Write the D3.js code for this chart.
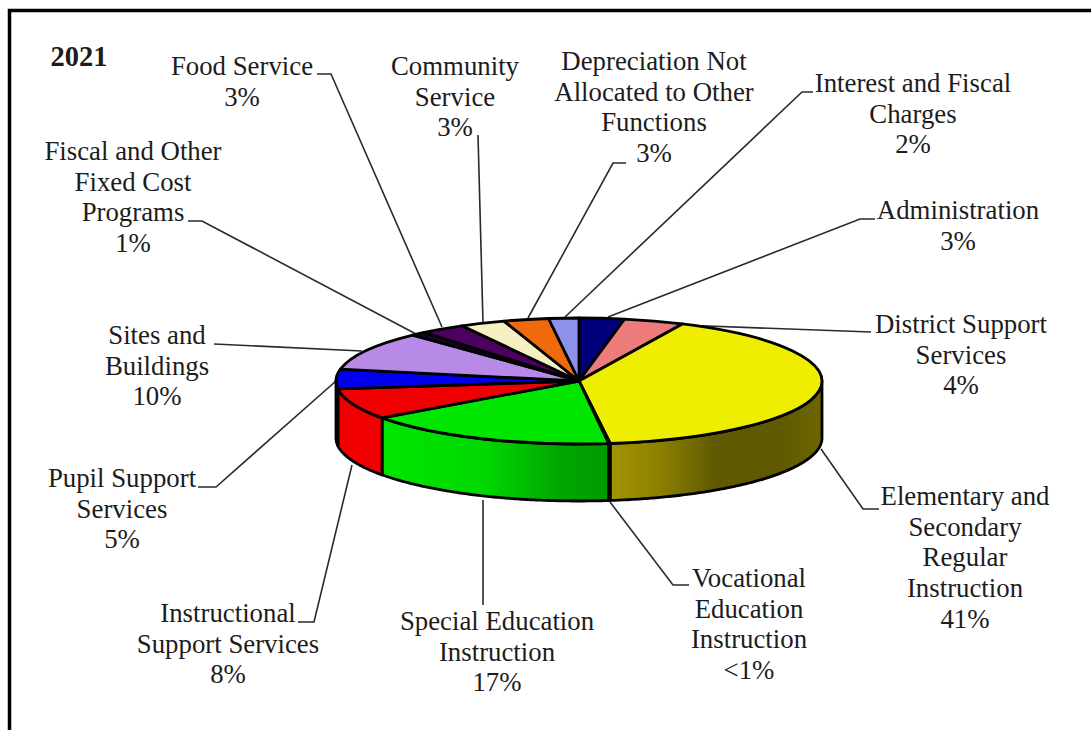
<!DOCTYPE html>
<html><head><meta charset="utf-8">
<script src="https://cdn.jsdelivr.net/npm/d3@7"></script>
<style>html,body{margin:0;padding:0;background:#fff;overflow:hidden}svg{display:block}
text{font-family:"Liberation Serif","Times New Roman",serif;fill:#1c1c1c;text-anchor:middle}</style>
</head><body><svg id="c" width="1091" height="730"></svg>
<script>
const yearLabel = "2021";
const categories = ["Administration","District Support Services","Elementary and Secondary Regular Instruction","Vocational Education Instruction","Special Education Instruction","Instructional Support Services","Pupil Support Services","Sites and Buildings","Fiscal and Other Fixed Cost Programs","Food Service","Community Service","Depreciation Not Allocated to Other Functions","Interest and Fiscal Charges"];
const values = [3,4,41,0.1,17,8,5,10,1,3,3,3,2];
const colors = ["#00007c","#ee7b7b","#f0ee00","#000000","#00e600","#f00000","#0000ee","#b68ae6","#1a0030","#4c0060","#f4f0c4","#f06a0c","#8c92e8"];
const labelLines = [["Administration","3%"],["District Support","Services","4%"],["Elementary and","Secondary","Regular","Instruction","41%"],["Vocational","Education","Instruction","<1%"],["Special Education","Instruction","17%"],["Instructional","Support Services","8%"],["Pupil Support","Services","5%"],["Sites and","Buildings","10%"],["Fiscal and Other","Fixed Cost","Programs","1%"],["Food Service","3%"],["Community","Service","3%"],["Depreciation Not","Allocated to Other","Functions","3%"],["Interest and Fiscal","Charges","2%"]];
// label layout: centre x and baseline of first line
const labelX = [958,961,965,749,497,228,122,157,133,242,455,654,913];
const labelY = [219,333,505,587,630,622,487,344,160,75,75,70,92];
// leader lines, layout only
const leaders = [
 [[875,219],[860,219],[608,317]],
 [[871,332],[680,325]],
 [[879,509],[863,509],[821,449]],
 [[689,585],[673,585],[610,502]],
 [[483,605],[483,500]],
 [[298,622],[314,622],[352,465]],
 [[198,487],[216,487],[336,381]],
 [[214,344],[362,351]],
 [[188,221],[202,221],[416,334]],
 [[317,74],[331,74],[442,327]],
 [[478,135],[483,323]],
 [[626,163],[613,163],[528,318]],
 [[813,92],[802,92],[565,317]]
];
const W=1091,H=730,cx=579,cy=381,rx=243,ry=63,depth=57;
const svg=d3.select("#c");
svg.append("path").attr("d",d3.line()([[9.5,730],[9.5,10.5],[1091,10.5]])).attr("fill","none").attr("stroke","#000").attr("stroke-width",3.5);

const defs=svg.append("defs");
function grad(id,stops){
  const g=defs.append("linearGradient").attr("id",id).attr("x1",0).attr("x2",1).attr("y1",0).attr("y2",0);
  stops.forEach(s=>g.append("stop").attr("offset",s[0]).attr("stop-color",s[1]));
}
grad("wallYellow",[[0,"#a39500"],[0.25,"#8a7e00"],[0.5,"#5f5900"],[0.8,"#5f5900"],[1,"#6d6700"]]);
grad("wallGreen",[[0,"#00e600"],[0.45,"#00d800"],[0.8,"#00a400"],[1,"#009c00"]]);

// leaders
const line=d3.line();
svg.append("g").selectAll("path").data(leaders).join("path").attr("d",d=>line(d))
  .attr("fill","none").attr("stroke","#2a2a2a").attr("stroke-width",1.6);

const pie=d3.pie().sort(null)(values);
const px=a=>cx+rx*Math.sin(a), py=a=>cy-ry*Math.cos(a);
const wallFill={2:"url(#wallYellow)",4:"url(#wallGreen)",5:"#f00000"};

// outer wall, only the front half of the rim
const lo=Math.PI/2, hi=3*Math.PI/2;
const wall=d3.area().x(px).y0(py).y1(a=>py(a)+depth);
const walls=pie.map((p,i)=>({i,a0:Math.max(p.startAngle,lo),a1:Math.min(p.endAngle,hi)})).filter(d=>d.a1>d.a0);
svg.append("g").selectAll("path").data(walls).join("path")
  .attr("d",d=>wall(d3.range(d.a0,d.a1,0.01).concat([d.a1])))
  .attr("fill",d=>wallFill[d.i]||colors[d.i])
  .attr("stroke","#000").attr("stroke-width",2.8).attr("stroke-linejoin","round");

// top face
const arc=d3.arc().innerRadius(0).outerRadius(rx);
svg.append("g").attr("transform",`translate(${cx},${cy}) scale(1,${ry/rx})`)
  .selectAll("path").data(pie).join("path").attr("d",arc)
  .attr("fill",(d,i)=>colors[i]).attr("stroke","#000").attr("stroke-width",2.8)
  .attr("stroke-linejoin","round").attr("vector-effect","non-scaling-stroke");

// labels
const lh=30.7;
const t=svg.append("g").selectAll("text").data(labelLines).join("text")
  .attr("font-size",26.8).attr("x",(d,i)=>labelX[i]).attr("y",(d,i)=>labelY[i]);
t.selectAll("tspan").data((d,i)=>d.map(s=>({s,x:labelX[i]}))).join("tspan")
  .attr("x",d=>d.x).attr("dy",(d,j)=>j?lh:0).text(d=>d.s);
svg.append("text").attr("x",79).attr("y",66).attr("font-size",28.5).attr("font-weight","bold").attr("fill","#000").text(yearLabel);
</script></body></html>
